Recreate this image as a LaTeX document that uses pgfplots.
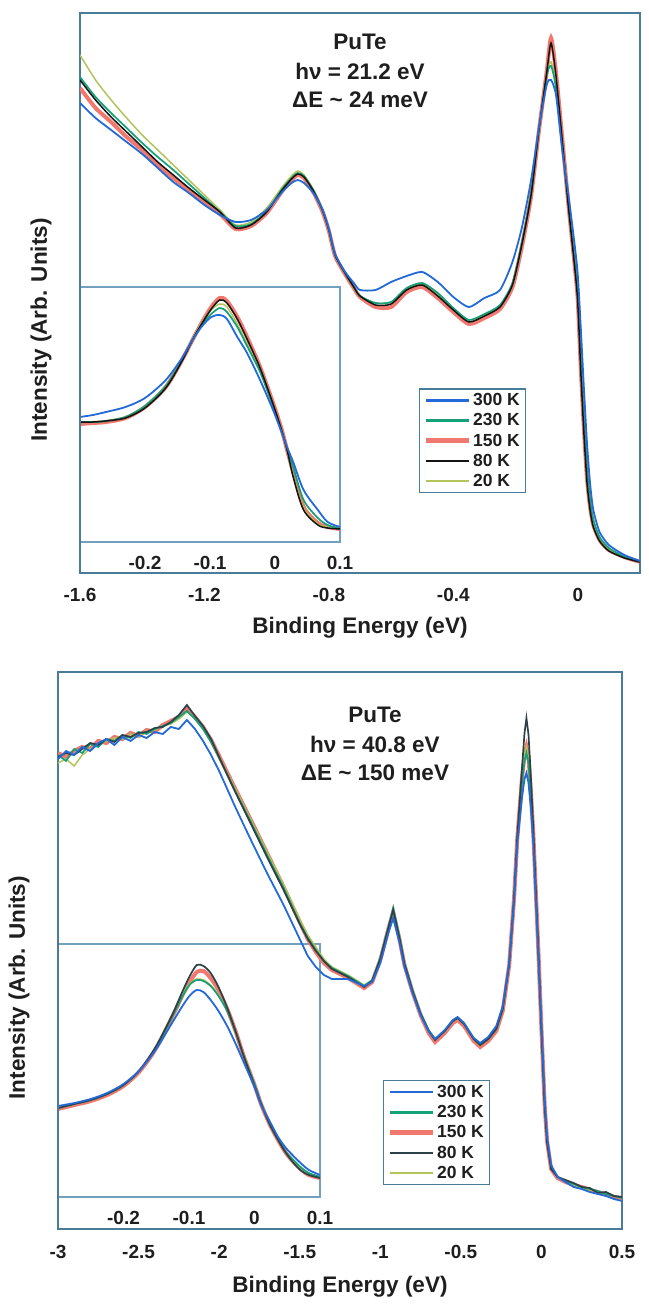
\documentclass[border=0pt]{standalone}
\usepackage{pgfplots}
\pgfplotsset{compat=1.18}
\usepackage{pgfplotstable}
\usepackage{fontspec}
\setmainfont{Liberation Sans}

\definecolor{frame}{RGB}{72,124,152}
\definecolor{insetframe}{RGB}{115,160,190}
\definecolor{txt}{RGB}{30,30,30}
\definecolor{c300}{RGB}{35,105,215}
\definecolor{c230}{RGB}{20,160,120}
\definecolor{c150}{RGB}{240,120,110}
\definecolor{c80}{RGB}{20,20,20}
\definecolor{c80b}{RGB}{45,65,72}
\definecolor{c20}{RGB}{180,195,90}

\pgfplotstableread{
E b300 g230 r150 k80 y20
-1.60 470 496 485 493 518
-1.55 455 476 465 473 493
-1.50 443 460 451 456 473
-1.45 431 445 436 441 455
-1.40 419 430 423 426 438
-1.35 405 416 408 411 423
-1.30 391 403 395 398 408
-1.25 380 389 383 385 393
-1.20 368 375 370 373 378
-1.15 358 361 359 361 363
-1.10 351 347 344 345 348
-1.05 353 349 347 348 351
-1.00 363 362 360 361 365
-0.95 381 384 382 383 386
-0.92 390 395 393 394 397
-0.90 393 400 398 399 402
-0.88 390 397 395 396 398
-0.85 380 383 381 382 383
-0.82 363 363 361 362 362
-0.80 344 343 342 343 343
-0.78 319 318 317 318 318
-0.75 302 301 300 301 301
-0.72 290 286 285 286 286
-0.70 283 277 276 277 277
-0.65 283 270 266 268 270
-0.60 291 271 266 269 271
-0.55 297 285 281 283 284
-0.50 301 290 286 288 289
-0.45 291 280 275 277 279
-0.40 276 265 261 263 264
-0.35 266 253 249 251 253
-0.30 275 259 255 257 258
-0.25 283 268 264 266 267
-0.21 311 290 286 288 289
-0.18 345 330 326 328 329
-0.15 393 380 377 378 379
-0.125 445 443 442 443 444
-0.10 488 497 501 500 499
-0.086 493 507 535 530 511
-0.07 478 485 500 497 488
-0.05 423 428 435 433 430
-0.03 378 368 368 366 368
-0.01 328 311 308 306 309
0.00 298 277 273 270 275
0.01 243 211 203 199 207
0.02 183 151 143 138 147
0.03 128 103 93 89 99
0.04 88 71 65 62 68
0.05 63 53 48 46 51
0.07 41 36 33 32 35
0.10 28 25 23 22 24
0.15 18 16 16 15 16
0.20 12 11 11 11 11
}\topmain

\pgfplotstableread{
E b300 g230 r150 k80 y20
-0.300 125 120 118 120 120
-0.280 127 120 119 120 120
-0.260 130 121 120 121 121
-0.230 135 125 124 124 125
-0.200 144 136 135 134 136
-0.168 162 156 155 154 156
-0.143 184 182 182 181 183
-0.127 202 202 202 202 203
-0.112 216 218 220 219 220
-0.098 225 228 235 233 232
-0.085 227 234 244 242 238
-0.074 223 230 241 239 235
-0.058 205 215 225 223 218
-0.043 189 196 205 203 198
-0.023 162 170 175 174 172
-0.003 132 136 139 138 137
0.010 110 112 113 112 112
0.019 94 92 91 91 91
0.028 80 75 70 65 66
0.044 52 42 35 32 34
0.066 32 24 19 17 18
0.081 20 17 15 14 15
0.100 15 13 13 13 13
}\topinset

\pgfplotstableread{
E b300 g230 r150 k80 y20
-3.00 470 474 476 472 466
-2.95 478 468 472 476 470
-2.90 474 480 478 474 463
-2.85 482 476 482 480 474
-2.80 478 485 480 486 480
-2.75 486 482 488 484 484
-2.70 490 490 486 490 488
-2.65 484 488 492 487 491
-2.60 492 494 490 494 490
-2.55 488 491 496 492 495
-2.50 494 497 493 496 492
-2.45 491 495 499 497 498
-2.40 497 500 497 501 499
-2.35 495 503 504 502 503
-2.30 502 506 508 507 505
-2.25 500 512 512 514 510
-2.20 509 518 520 524 517
-2.15 500 510 512 513 511
-2.10 488 500 502 503 501
-2.05 474 487 489 490 488
-2.00 458 471 473 472 472
-1.90 422 438 440 437 440
-1.80 388 406 408 404 408
-1.70 355 373 375 371 376
-1.60 324 341 342 339 344
-1.50 290 306 307 305 310
-1.45 273 291 290 290 294
-1.40 262 279 277 278 282
-1.35 254 268 266 268 270
-1.30 250 261 259 260 262
-1.20 250 253 251 252 254
-1.10 243 243 241 242 244
-1.05 247 249 247 248 249
-1.00 266 271 269 270 271
-0.95 296 302 300 301 302
-0.92 311 321 317 319 320
-0.88 286 292 289 290 291
-0.85 262 266 264 265 266
-0.80 236 239 237 238 239
-0.75 214 216 214 215 216
-0.70 198 199 196 198 199
-0.66 190 190 187 189 190
-0.60 199 198 196 198 198
-0.55 209 208 206 208 208
-0.52 212 211 209 211 211
-0.48 206 205 203 205 205
-0.42 191 190 188 190 190
-0.38 186 184 182 184 184
-0.33 192 190 188 190 190
-0.28 203 200 198 200 200
-0.24 223 220 218 220 220
-0.20 266 265 264 265 265
-0.17 328 330 330 331 330
-0.15 385 390 390 392 390
-0.12 432 448 452 462 452
-0.105 450 468 474 496 474
-0.093 456 476 482 511 482
-0.08 446 466 472 494 472
-0.065 420 432 436 450 436
-0.05 385 392 394 398 392
-0.02 278 280 282 282 280
0.00 205 200 200 198 200
0.02 130 125 124 122 124
0.035 92 90 88 86 88
0.06 64 62 60 60 62
0.10 52 52 51 52 52
0.15 47 48 47 49 48
0.20 42 45 44 46 44
0.25 40 42 42 42 41
0.30 37 40 39 41 39
0.35 35 38 37 36 37
0.40 33 35 35 37 35
0.45 30 33 32 33 33
0.50 28 31 31 32 31
}\botmain

\pgfplotstableread{
E b300 g230 r150 k80 y20
-0.300 91 89 88 89 89
-0.275 94 93 92 93 93
-0.250 98 97 96 97 97
-0.225 104 103 102 103 103
-0.200 113 112 111 112 112
-0.175 127 127 126 127 127
-0.150 148 150 149 151 150
-0.125 175 181 181 183 182
-0.109 192 202 203 207 204
-0.098 202 213 216 222 214
-0.088 207 217 225 232 218
-0.078 205 216 226 231 217
-0.067 197 211 219 224 212
-0.055 186 201 207 210 202
-0.041 170 185 187 188 186
-0.028 152 163 164 164 163
-0.016 134 140 140 140 140
0.000 110 113 112 111 112
0.010 92 94 93 93 93
0.023 76 74 73 73 73
0.036 60 58 57 57 57
0.048 49 45 44 44 44
0.061 40 36 34 33 34
0.072 33 29 27 26 27
0.083 27 24 22 22 22
0.100 22 20 19 19 19
}\botinset

\tikzset{
  lblfont/.style={font=\fontsize{22.5bp}{26bp}\selectfont\bfseries, text=txt},
  tickfont/.style={font=\fontsize{19bp}{22bp}\selectfont\bfseries, text=txt},
  legfont/.style={font=\fontsize{17.5bp}{20bp}\selectfont\bfseries, text=txt},
  s300/.style={color=c300, line width=1.8bp},
  s230/.style={color=c230, line width=1.7bp},
  s150/.style={color=c150, line width=4bp},
  s80/.style={color=c80, line width=1.5bp},
  s80b/.style={color=c80b, line width=1.7bp},
  s20/.style={color=c20, line width=1.5bp},
  l300/.style={color=c300, line width=2.6bp},
  l230/.style={color=c230, line width=2.4bp},
  l150/.style={color=c150, line width=5bp},
  l80/.style={color=c80, line width=2.2bp},
  l80b/.style={color=c80b, line width=2.4bp},
  l20/.style={color=c20, line width=2.2bp},
}
\pgfplotsset{
  mainax/.style={
    scale only axis,
    anchor=south west,
    axis line style={draw=frame, line width=2.2bp},
    ytick=\empty,
    xtick style={draw=none},
    major tick length=0pt,
    tick label style={tickfont},
    label style={lblfont},
    xticklabel style={anchor=center},
    legend style={legfont, draw=frame, line width=1.5bp, fill=white,
      anchor=north west, inner xsep=4bp, inner ysep=3bp, row sep=3.5bp,
      nodes={inner sep=1.5bp}},
    legend cell align=left,
    legend image code/.code={\draw[##1] (0bp,0bp) -- (43bp,0bp);},
  },
  insetax/.style={
    scale only axis,
    anchor=south west,
    axis line style={draw=insetframe, line width=1.3bp},
    axis background/.style={fill=white},
    ytick=\empty,
    xtick={-0.2,-0.1,0,0.1},
    xticklabels={-0.2,-0.1,0,0.1},
    xtick style={draw=none},
    major tick length=0pt,
    tick label style={tickfont},
    xticklabel style={anchor=center, yshift=-21bp},
    xmin=-0.3, xmax=0.1,
  },
}

\begin{document}
\begin{tikzpicture}
\useasboundingbox (0,0) rectangle (649bp,1305bp);

% ---------- top panel inset ----------
\begin{axis}[insetax, at={(80bp,763bp)}, width=260bp, height=255bp,
  ymin=0, ymax=255]
\addplot[s150, smooth] table[x=E,y=r150]{\topinset};
\addplot[s20, smooth] table[x=E,y=y20]{\topinset};
\addplot[s230, smooth] table[x=E,y=g230]{\topinset};
\addplot[s80, smooth] table[x=E,y=k80]{\topinset};
\addplot[s300, smooth] table[x=E,y=b300]{\topinset};
\end{axis}

% ---------- top panel main ----------
\begin{axis}[mainax, at={(80bp,732bp)}, width=560bp, height=560bp,
  xmin=-1.6, xmax=0.2, ymin=0, ymax=560,
  xtick={-1.6,-1.2,-0.8,-0.4,0},
  xticklabels={-1.6,-1.2,-0.8,-0.4,0},
  xticklabel style={yshift=-22bp},
  xlabel={Binding Energy (eV)},
  xlabel style={at={(axis description cs:0.5,0)}, anchor=center, yshift=-55bp},
  ylabel={Intensity (Arb. Units)},
  ylabel style={at={(axis description cs:-0.0696,0.434)}, anchor=center},
  legend style={at={(rel axis cs:0.605,0.330)}}]
\addplot[s150, smooth, tension=0.4, forget plot] table[x=E,y=r150]{\topmain};
\addplot[s20, smooth, tension=0.4, forget plot] table[x=E,y=y20]{\topmain};
\addplot[s230, smooth, tension=0.4, forget plot] table[x=E,y=g230]{\topmain};
\addplot[s80, smooth, tension=0.4, forget plot] table[x=E,y=k80]{\topmain};
\addplot[s300, smooth, tension=0.4, forget plot] table[x=E,y=b300]{\topmain};
\addlegendimage{l300}\addlegendentry{300 K}
\addlegendimage{l230}\addlegendentry{230 K}
\addlegendimage{l150}\addlegendentry{150 K}
\addlegendimage{l80}\addlegendentry{80 K}
\addlegendimage{l20}\addlegendentry{20 K}
\node[lblfont] at (rel axis cs:0.5,0.948) {PuTe};
\node[lblfont] at (rel axis cs:0.5,0.896) {hν = 21.2 eV};
\node[lblfont] at (rel axis cs:0.5,0.845) {ΔE \textasciitilde{} 24 meV};
\end{axis}

% ---------- bottom panel inset ----------
\begin{axis}[insetax, at={(58bp,108bp)}, width=262bp, height=253bp,
  ymin=0, ymax=253]
\addplot[s150, smooth] table[x=E,y=r150]{\botinset};
\addplot[s20, smooth] table[x=E,y=y20]{\botinset};
\addplot[s230, smooth] table[x=E,y=g230]{\botinset};
\addplot[s80b, smooth] table[x=E,y=k80]{\botinset};
\addplot[s300, smooth] table[x=E,y=b300]{\botinset};
\end{axis}

% ---------- bottom panel main ----------
\begin{axis}[mainax, at={(58bp,76bp)}, width=564bp, height=557bp,
  xmin=-3, xmax=0.5, ymin=0, ymax=557,
  xtick={-3,-2.5,-2,-1.5,-1,-0.5,0,0.5},
  xticklabels={-3,-2.5,-2,-1.5,-1,-0.5,0,0.5},
  xticklabel style={yshift=-23bp},
  xlabel={Binding Energy (eV)},
  xlabel style={at={(axis description cs:0.5,0)}, anchor=center, yshift=-58bp},
  ylabel={Intensity (Arb. Units)},
  ylabel style={at={(axis description cs:-0.069,0.433)}, anchor=center},
  legend style={at={(rel axis cs:0.576,0.2675)}}]
\addplot[s150, forget plot] table[x=E,y=r150]{\botmain};
\addplot[s20, forget plot] table[x=E,y=y20]{\botmain};
\addplot[s230, forget plot] table[x=E,y=g230]{\botmain};
\addplot[s80b, forget plot] table[x=E,y=k80]{\botmain};
\addplot[s300, forget plot] table[x=E,y=b300]{\botmain};
\addlegendimage{l300}\addlegendentry{300 K}
\addlegendimage{l230}\addlegendentry{230 K}
\addlegendimage{l150}\addlegendentry{150 K}
\addlegendimage{l80b}\addlegendentry{80 K}
\addlegendimage{l20}\addlegendentry{20 K}
\node[lblfont] at (rel axis cs:0.562,0.923) {PuTe};
\node[lblfont] at (rel axis cs:0.562,0.869) {hν = 40.8 eV};
\node[lblfont] at (rel axis cs:0.562,0.819) {ΔE \textasciitilde{} 150 meV};
\end{axis}
\end{tikzpicture}
\end{document}
